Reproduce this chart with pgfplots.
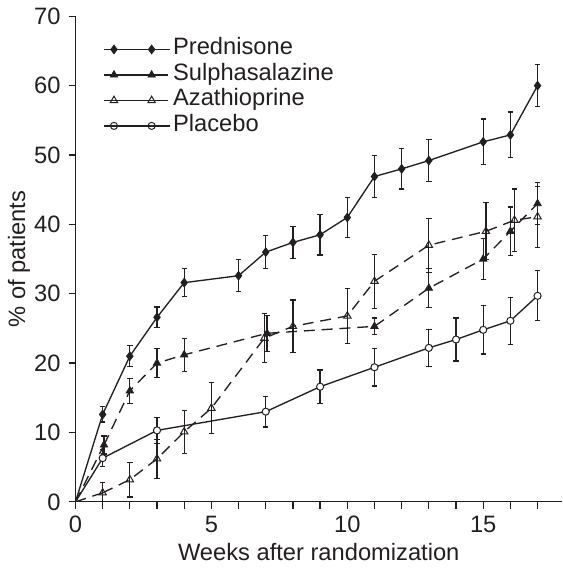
\documentclass[border=0pt]{standalone}
\usepackage{fontspec}
\setmainfont{Liberation Sans}
\usepackage{pgfplots}
\pgfplotsset{compat=1.18}
\definecolor{ink}{HTML}{231F20}

\pgfplotsset{
  pred/.style={ink, line width=1.35bp, solid, mark=diamond*, mark size=4.4bp, mark options={solid, fill=ink, line width=0.8bp}},
  sul/.style={ink, line width=1.35bp, dash pattern=on 11bp off 7bp, mark=triangle*, mark size=4.3bp, mark options={solid, fill=ink, line width=0.8bp}},
  aza/.style={ink, line width=1.35bp, dash pattern=on 11bp off 7bp, mark=triangle, mark size=4.3bp, mark options={solid, fill=white, line width=1bp}},
  pla/.style={ink, line width=1.35bp, solid, mark=*, mark size=3.6bp, mark options={solid, fill=white, line width=1bp}},
  ebar/.style={error bars/.cd, y dir=both, y explicit,
    error bar style={ink, line width=1.25bp, solid},
    error mark options={rotate=90, mark size=2.7bp, ink, line width=1.25bp, solid}},
}

\begin{document}
\fontsize{24}{28}\selectfont
\begin{tikzpicture}
\begin{axis}[
  width=491bp, height=490bp, scale only axis,
  xmin=0, xmax=17.9, ymin=0, ymax=70,
  axis x line*=bottom, axis y line*=left,
  axis line style={ink, line width=1.3bp, -},
  xtick={0,5,10,15}, minor xtick={1,2,3,4,6,7,8,9,11,12,13,14,16,17},
  ytick={0,10,...,70},
  tick align=outside, major tick length=7bp, minor tick length=7bp,
  tick style={ink, line width=1.3bp},
  /pgf/number format/assume math mode=true,
  tick label style={font=\fontsize{24}{28}\selectfont, text=ink},
  xticklabel style={yshift=1bp},
  label style={font=\fontsize{24}{28}\selectfont, text=ink},
  xlabel={Weeks after randomization},
  xlabel style={yshift=5bp},
  ylabel={\% of patients},
  ylabel style={yshift=-12bp},
  legend style={at={(axis description cs:0.057,0.957)}, anchor=north west,
    draw=none, fill=none, inner sep=0pt, row sep=1.2bp,
    font=\fontsize{24}{28}\selectfont,
    nodes={text=ink, text height=15.5bp, text depth=5bp, inner sep=2bp}},
  legend cell align=left,
  legend image code/.code={
    \draw[#1, solid] (0bp,0bp) -- (59bp,0bp);
    \draw[#1, solid, only marks] plot coordinates {(10bp,0bp) (48bp,0bp)};
    \path (0bp,0bp) -- (67bp,0bp);
  },
]
% lines from the origin (no marker there)
\addplot[pred, mark=none, forget plot] coordinates {(0,0) (1,12.6)};
\addplot[sul, mark=none, forget plot] coordinates {(0,0) (1.05,8.2)};
\addplot[aza, mark=none, forget plot] coordinates {(0,0) (1,1.3)};
\addplot[pla, mark=none, forget plot] coordinates {(0,0) (1,6.3)};

\addplot[pred, ebar] coordinates {
  (1,12.6) +- (0,1.1)
  (2,21.0) +- (0,1.5)
  (3,26.6) +- (0,1.5)
  (4,31.6) +- (0,2.0)
  (6,32.6) +- (0,2.3)
  (7,36.0) +- (0,2.4)
  (8,37.4) +- (0,2.3)
  (9,38.5) +- (0,2.9)
  (10,41.0) +- (0,2.9)
  (11,46.9) +- (0,3.0)
  (12,48.0) +- (0,2.9)
  (13,49.2) +- (0,3.0)
  (15,51.9) +- (0,3.3)
  (16,52.9) +- (0,3.3)
  (17,60.0) +- (0,3.0)
};
\addplot[sul, ebar] coordinates {
  (1.05,8.2) +- (0,1.3)
  (2,16.0) +- (0,1.8)
  (3,20.0) +- (0,2.1)
  (4,21.2) +- (0,2.4)
  (7.05,24.3) +- (0,2.6)
  (11,25.3) +- (0,1.2)
  (13,30.8) +- (0,2.8)
  (15,35.0) +- (0,3.0)
  (16,39.0) +- (0,3.5)
  (17,43.0) +- (0,3.0)
};
\addplot[aza, ebar] coordinates {
  (1,1.3) +- (0,1.5)
  (2,3.2) +- (0,2.5)
  (3,6.2) +- (0,2.8)
  (4,10.1) +- (0,3.1)
  (5,13.5) +- (0,3.7)
  (6.95,23.6) +- (0,3.5)
  (8,25.3) +- (0,3.8)
  (10,26.8) +- (0,4.0)
  (11,31.8) +- (0,3.9)
  (13,37.0) +- (0,3.9)
  (15.1,39.0) +- (0,4.1)
  (16.15,40.6) +- (0,4.5)
  (17,41.1) +- (0,4.4)
};
\addplot[pla, ebar] coordinates {
  (1,6.3) +- (0,1.2)
  (3,10.3) +- (0,1.9)
  (7,13.0) +- (0,2.2)
  (9,16.6) +- (0,2.4)
  (11,19.4) +- (0,2.7)
  (13,22.2) +- (0,2.7)
  (14,23.4) +- (0,3.1)
  (15,24.8) +- (0,3.5)
  (16,26.1) +- (0,3.4)
  (17,29.7) +- (0,3.6)
};
\legend{Prednisone, Sulphasalazine, Azathioprine, Placebo}
\end{axis}
\end{tikzpicture}
\end{document}
